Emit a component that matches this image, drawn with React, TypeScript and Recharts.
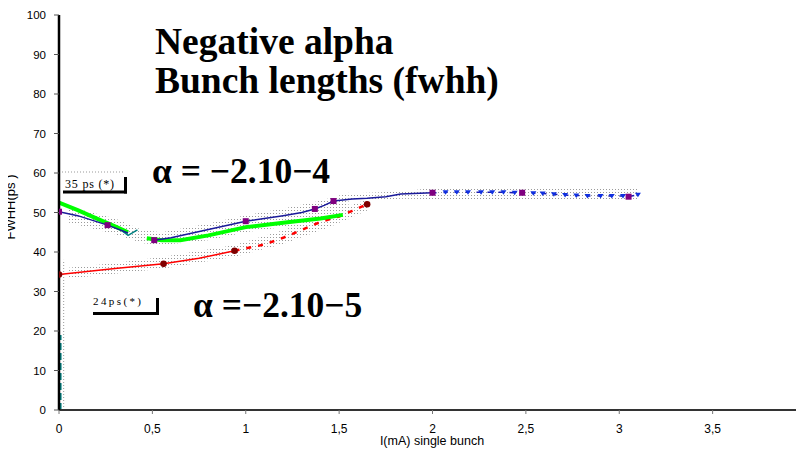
import React from "react";
import { ComposedChart, Line, Area, Scatter, XAxis, YAxis } from "recharts";

// ---- data ----
const xTicks = [0, 0.5, 1, 1.5, 2, 2.5, 3, 3.5, 4];
const xTickLabels = ["0", "0,5", "1", "1,5", "2", "2,5", "3", "3,5", "4"];
const yTicks = [0, 10, 20, 30, 40, 50, 60, 70, 80, 90, 100];

// alpha = -2.10-4 (blue)
const blueFallX = [0, 0.1, 0.26, 0.37];
const blueFallY = [50.2, 49.2, 46.8, 44.8];
const blueRiseX = [0.51, 0.6, 0.8, 1.0, 1.2, 1.3, 1.37, 1.42, 1.47, 1.57, 1.65, 1.75, 1.83, 2.0];
const blueRiseY = [43.0, 43.6, 45.7, 47.8, 49.2, 50.0, 50.9, 51.8, 52.9, 53.4, 53.6, 54.0, 54.7, 55.0];
const blueDashX = [2.0, 2.07, 2.13, 2.19, 2.26, 2.32, 2.38, 2.44, 2.48, 2.54, 2.59, 2.65, 2.71, 2.77, 2.83, 2.9, 2.96, 3.02, 3.05, 3.1];
const blueDashY = [55.0, 55.1, 55.1, 55.1, 55.1, 55.1, 55.1, 55.0, 55.0, 54.9, 54.8, 54.6, 54.4, 54.3, 54.2, 54.2, 54.2, 54.2, 54.0, 54.5];
const blueTriX = [2.07, 2.13, 2.19, 2.26, 2.32, 2.38, 2.44, 2.54, 2.59, 2.65, 2.71, 2.77, 2.83, 2.9, 2.96, 3.02, 3.1];
const blueTriY = [55.1, 55.1, 55.1, 55.1, 55.1, 55.1, 55.0, 54.9, 54.8, 54.6, 54.4, 54.3, 54.2, 54.2, 54.2, 54.2, 54.5];
const purpleX = [0, 0.26, 0.51, 1.0, 1.37, 1.47, 2.0, 2.48, 3.05];
const purpleY = [50.2, 46.8, 43.0, 47.8, 50.9, 52.9, 55.0, 55.0, 54.0];

// green
const greenAX = [0, 0.1, 0.2, 0.3, 0.37];
const greenAY = [52.5, 50.6, 48.5, 46.5, 45.0];
const greenBX = [0.47, 0.55, 0.65, 0.8, 1.0, 1.2, 1.4, 1.52];
const greenBY = [43.5, 43.0, 43.0, 44.2, 46.3, 47.4, 48.5, 49.4];
const tealVX = [0.34, 0.37, 0.42];
const tealVY = [45.3, 44.2, 45.6];

// alpha = -2.10-5 (red)
const redSolidX = [0, 0.1, 0.3, 0.56, 0.75, 0.94];
const redSolidY = [34.3, 34.8, 35.8, 37.0, 38.4, 40.3];
const redDashX = [0.94, 1.1, 1.2, 1.3, 1.4, 1.5, 1.57, 1.65];
const redDashY = [40.3, 41.9, 43.6, 45.6, 47.6, 49.0, 50.4, 52.1];
const maroonX = [0, 0.56, 0.94, 1.65];
const maroonY = [34.3, 37.0, 40.3, 52.1];

// teal near origin
const tealAxisX = [0.007, 0.007];
const tealAxisY = [0, 19];
const grayBarX = [0.025, 0.025];
const grayBarY = [0, 38];

// stippled uncertainty bands
const bandUpX = [0.05, 0.3, 0.45, 0.55, 0.8, 1.0, 1.2, 1.4, 1.55];
const bandUpHi = [51.5, 48.5, 45.5, 45.0, 47.2, 49.3, 51.0, 53.0, 55.0];
const bandUpLo = [47.5, 44.5, 42.2, 41.8, 43.0, 45.0, 46.3, 47.3, 48.3];
const bandRedX = [0.05, 0.3, 0.56, 0.94, 1.2, 1.45, 1.65];
const bandRedHi = [36.0, 37.2, 38.8, 41.8, 45.5, 50.0, 53.3];
const bandRedLo = [33.3, 34.5, 35.8, 38.8, 42.0, 46.3, 50.5];
const bandFlatX = [1.55, 1.83, 2.0, 2.5, 3.1];
const bandFlatHi = [54.8, 55.3, 56.2, 56.2, 56.0];
const bandFlatLo = [53.0, 53.5, 53.4, 53.4, 53.3];

const pts = (xs: number[], ys: number[]) => xs.map((x, i) => ({ x, y: ys[i] }));
const band = (xs: number[], lo: number[], hi: number[]) => xs.map((x, i) => ({ x, r: [lo[i], hi[i]] }));

const Square = (p: any) => <rect x={p.cx - 3} y={p.cy - 3} width={6} height={6} fill="#800080" />;
const Dot = (p: any) => <circle cx={p.cx} cy={p.cy} r={3.3} fill="#800000" />;
const Tri = (p: any) => (
  <path d={`M${p.cx - 3},${p.cy - 2} L${p.cx + 3},${p.cy - 2} L${p.cx},${p.cy + 2.5} Z`} fill="#1030e0" />
);

const sans = "'Liberation Sans', Arial, sans-serif";
const serif = "'Liberation Serif', 'Times New Roman', serif";

const XTick = (p: any) => {
  const v = p.payload?.value;
  const label = xTickLabels[xTicks.indexOf(v)] ?? String(v);
  const last = v === 4;
  return (
    <text x={last ? Math.min(p.x, 803) : p.x} y={p.y} dy="0.71em" textAnchor={last ? "end" : "middle"} fill="#000" fontSize={12} fontFamily={sans}>
      {label}
    </text>
  );
};

export default function App() {
  return (
    <div style={{ position: "relative", width: 804, height: 457, overflow: "hidden", marginLeft: -8, marginTop: -8, background: "#fff" }}>
      <ComposedChart width={810} height={457} margin={{ top: 15, right: 4, bottom: 0, left: 0 }}>
        <defs>
          <pattern id="stip" width="3" height="3" patternUnits="userSpaceOnUse">
            <rect x="0" y="0" width="1" height="1" fill="#9a9a9a" />
          </pattern>
        </defs>
        <XAxis
          type="number"
          dataKey="x"
          domain={[0, 4]}
          ticks={xTicks}
          height={47}
          tickSize={4}
          tickMargin={10}
          axisLine={{ stroke: "#333", strokeWidth: 2 }}
          tickLine={{ stroke: "#777" }}
          tick={<XTick />}
          interval={0}
          allowDataOverflow
        />
        <YAxis
          type="number"
          dataKey="y"
          domain={[0, 100]}
          ticks={yTicks}
          width={59}
          tickSize={5}
          tickMargin={8}
          axisLine={{ stroke: "#000", strokeWidth: 2.5 }}
          tickLine={{ stroke: "#555" }}
          tick={{ fill: "#000", fontSize: 11.5, fontFamily: sans }}
          interval={0}
        />
        <Area data={band(bandUpX, bandUpLo, bandUpHi)} dataKey="r" type="linear" stroke="none" fill="url(#stip)" fillOpacity={1} isAnimationActive={false} />
        <Area data={band(bandRedX, bandRedLo, bandRedHi)} dataKey="r" type="linear" stroke="none" fill="url(#stip)" fillOpacity={1} isAnimationActive={false} />
        <Area data={band(bandFlatX, bandFlatLo, bandFlatHi)} dataKey="r" type="linear" stroke="none" fill="url(#stip)" fillOpacity={1} isAnimationActive={false} />

        <Line data={pts(grayBarX, grayBarY)} dataKey="y" stroke="#999" strokeWidth={1} strokeDasharray="1 2" dot={false} isAnimationActive={false} />
        <Line data={pts(tealAxisX, tealAxisY)} dataKey="y" stroke="#008080" strokeWidth={2.5} strokeDasharray="7 3" dot={false} isAnimationActive={false} />

        <Line data={pts(redSolidX, redSolidY)} dataKey="y" stroke="#ff0000" strokeWidth={1.5} dot={false} isAnimationActive={false} />
        <Line data={pts(redDashX, redDashY)} dataKey="y" stroke="#ff0000" strokeWidth={2.5} strokeDasharray="5 7" dot={false} isAnimationActive={false} />

        <Line data={pts(greenAX, greenAY)} dataKey="y" stroke="#00ff00" strokeWidth={4} dot={false} isAnimationActive={false} />
        <Line data={pts(greenBX, greenBY)} dataKey="y" stroke="#00ff00" strokeWidth={4} dot={false} isAnimationActive={false} />
        <Line data={pts(tealVX, tealVY)} dataKey="y" stroke="#008080" strokeWidth={1.5} dot={false} isAnimationActive={false} />

        <Line data={pts(blueFallX, blueFallY)} dataKey="y" stroke="#1a1a9a" strokeWidth={1.5} dot={false} isAnimationActive={false} />
        <Line data={pts(blueRiseX, blueRiseY)} dataKey="y" stroke="#1a1a9a" strokeWidth={1.5} dot={false} isAnimationActive={false} />
        <Line data={pts(blueDashX, blueDashY)} dataKey="y" stroke="#1a1ab0" strokeWidth={1.5} strokeDasharray="4 7" dot={false} isAnimationActive={false} />

        <Scatter data={pts(blueTriX, blueTriY)} dataKey="y" shape={Tri} isAnimationActive={false} />
        <Scatter data={pts(purpleX, purpleY)} dataKey="y" shape={Square} isAnimationActive={false} />
        <Scatter data={pts(maroonX, maroonY)} dataKey="y" shape={Dot} isAnimationActive={false} />
      </ComposedChart>

      <svg width={804} height={457} style={{ position: "absolute", left: 0, top: 0, pointerEvents: "none" }}>
        <text x={155} y={54} fontFamily={serif} fontWeight="bold" fontSize={37.5} fill="#000">Negative alpha</text>
        <text x={155} y={93} fontFamily={serif} fontWeight="bold" fontSize={37.5} fill="#000">Bunch lengths (fwhh)</text>

        <text x={152} y={183} fontFamily={serif} fontWeight="bold" fontSize={35.5} fill="#000">α = −2.10−4</text>
        <text x={193} y={317} fontFamily={serif} fontWeight="bold" fontSize={35.5} fill="#000">α =−2.10−5</text>

        <line x1={62} y1={172} x2={125} y2={172} stroke="#999" strokeDasharray="1 2" />
        <text x={65} y={188} fontFamily={serif} fontSize={12} letterSpacing={0.8} fill="#000">35 ps (*)</text>
        <line x1={63} y1={192} x2={127} y2={192} stroke="#000" strokeWidth={3} />
        <line x1={125.5} y1={177} x2={125.5} y2={193.5} stroke="#000" strokeWidth={3} />

        <text x={93} y={305} fontFamily={serif} fontSize={11} letterSpacing={2.4} fill="#000">24ps(*)</text>
        <line x1={93} y1={313.5} x2={159} y2={313.5} stroke="#000" strokeWidth={3} />
        <line x1={157.5} y1={298} x2={157.5} y2={315} stroke="#000" strokeWidth={3} />

        <text transform="translate(15,207) rotate(-90)" textAnchor="middle" fontFamily={sans} fontSize={13} fill="#000">FWHH(ps )</text>
        <text x={432} y={445} textAnchor="middle" fontFamily={sans} fontSize={12.5} fill="#000">I(mA) single bunch</text>
      </svg>
    </div>
  );
}
